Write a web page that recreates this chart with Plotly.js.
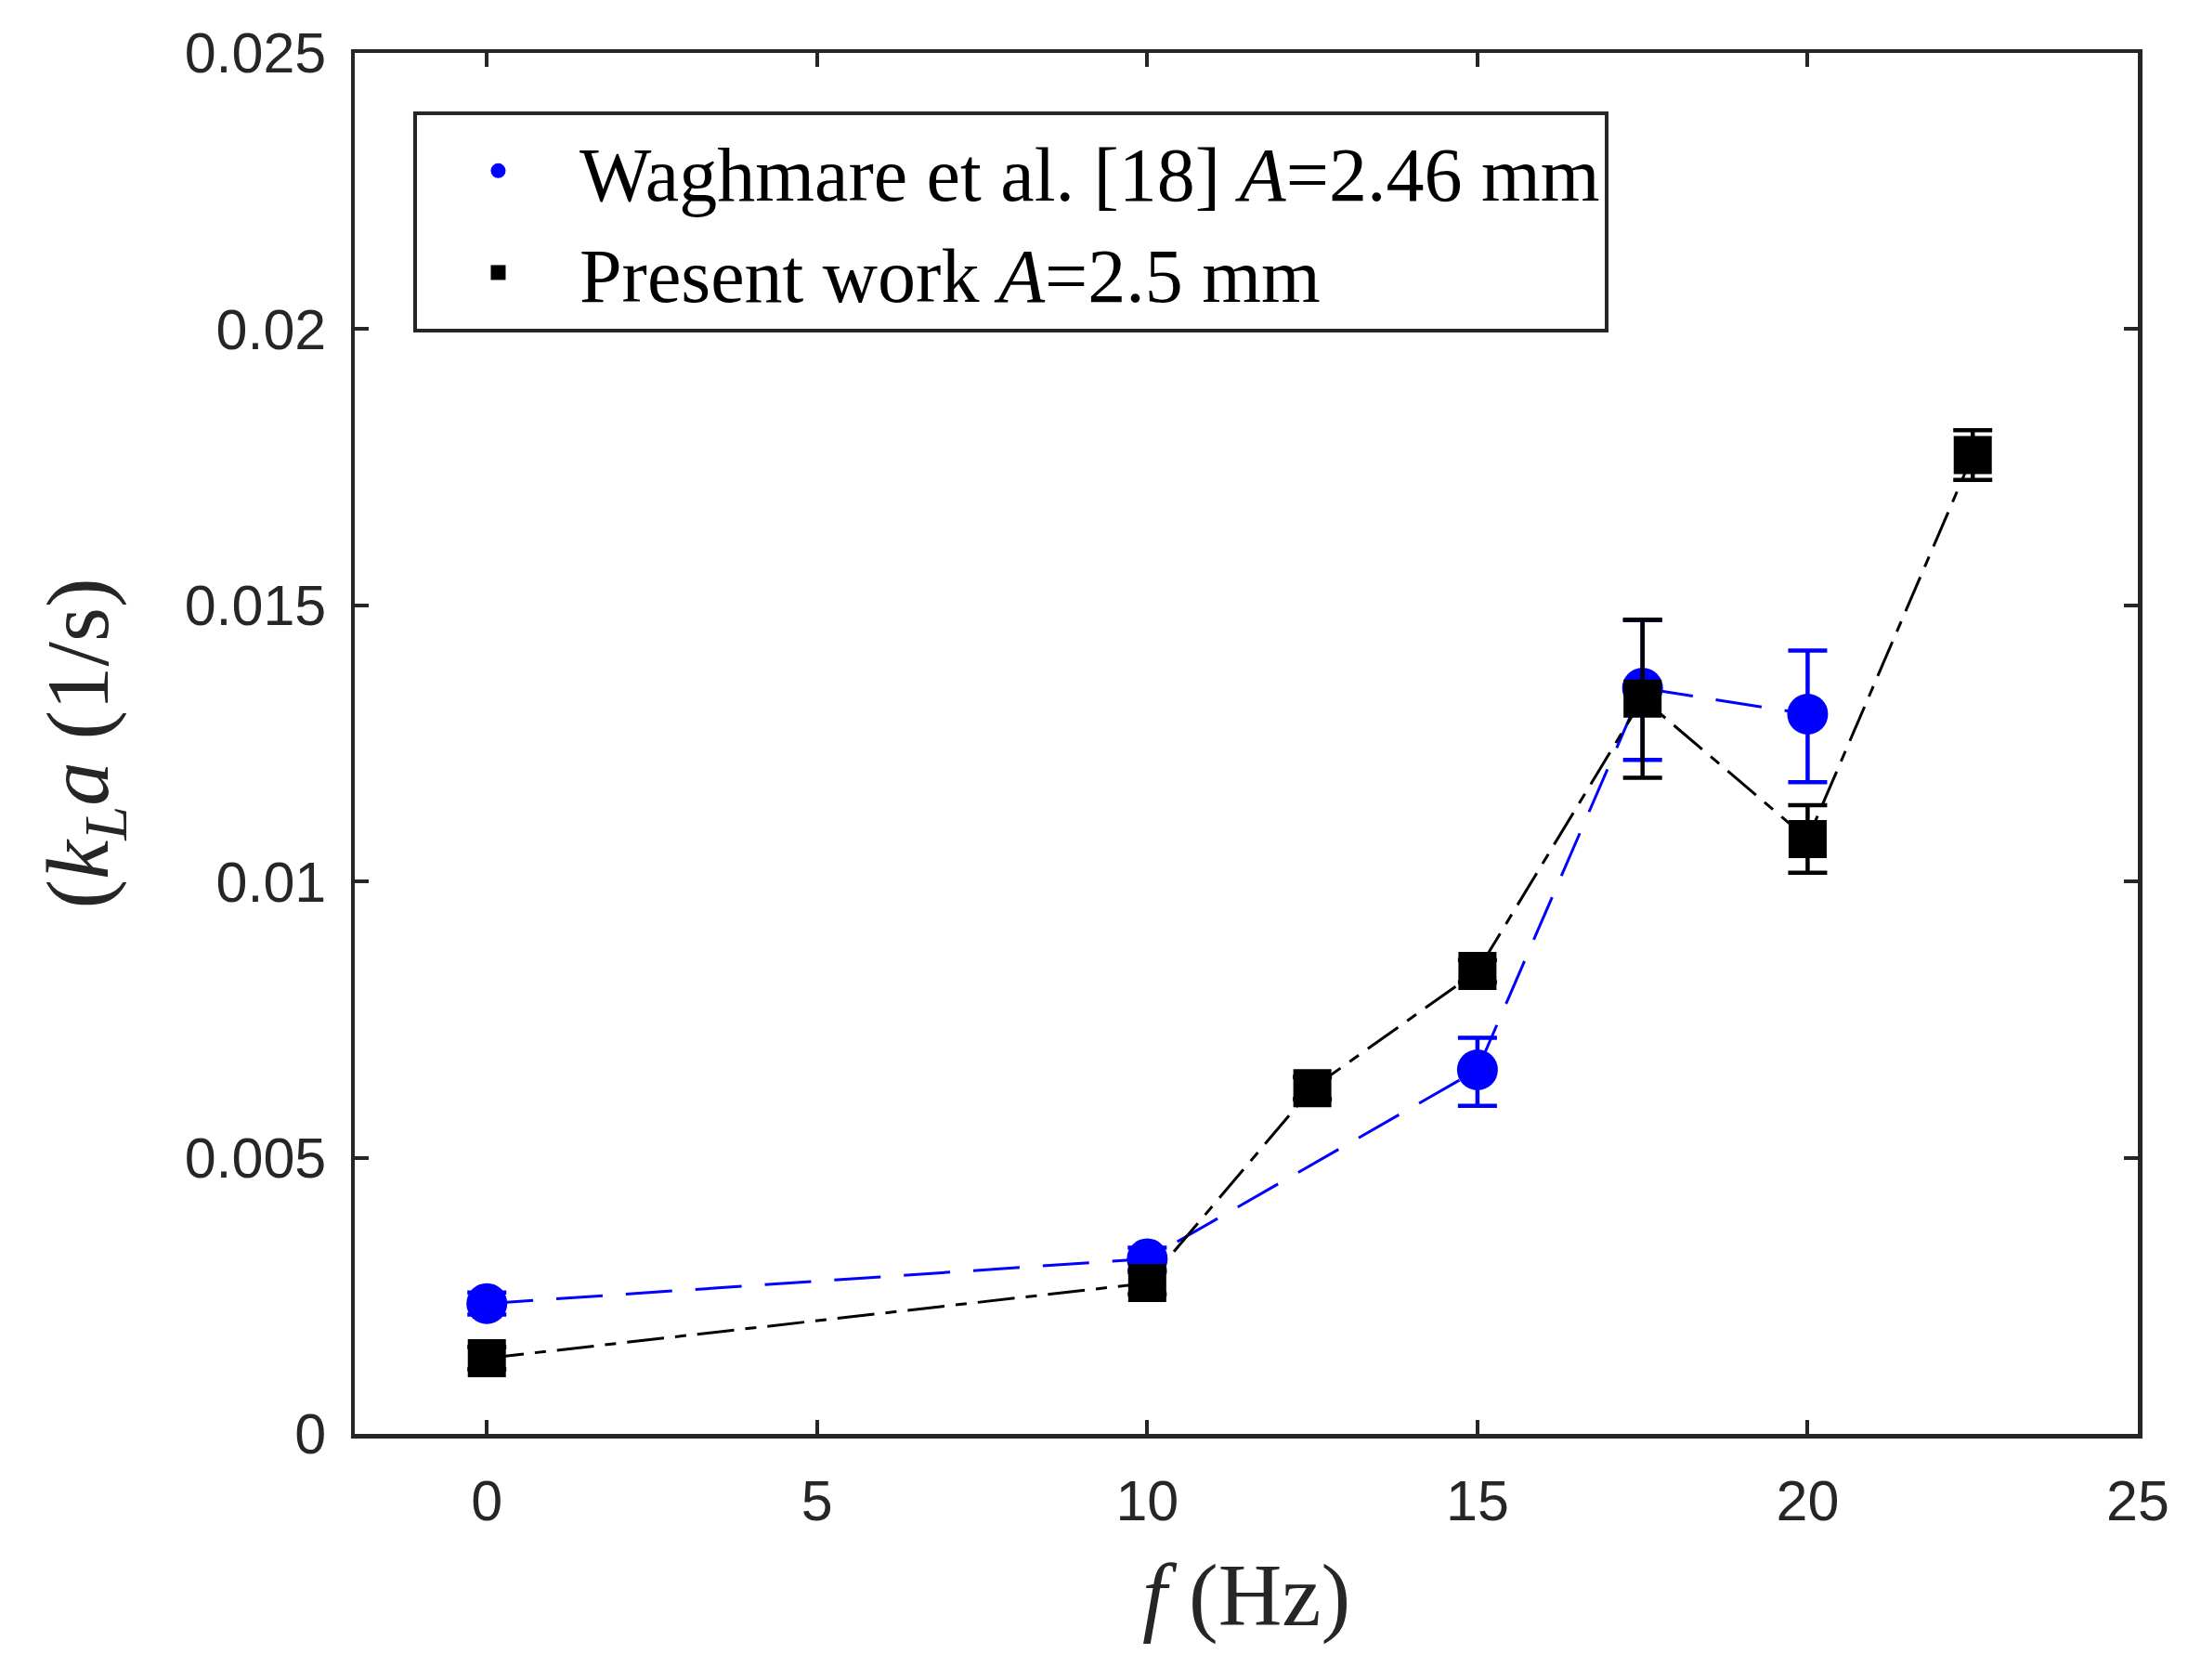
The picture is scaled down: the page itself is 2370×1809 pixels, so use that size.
<!DOCTYPE html>
<html>
<head>
<meta charset="utf-8">
<script src="https://cdn.plot.ly/plotly-3.0.1.min.js"></script>
<style>html,body{margin:0;padding:0;background:#fff;}</style>
</head>
<body>
<div id="chart" style="width:2370px;height:1809px;"></div>
<script>
// ---- data ----
const freqWaghmare = [0, 10, 15, 17.5, 20];
const kLaWaghmare = [0.00236, 0.00317, 0.00659, 0.01350, 0.01303];
const errWaghmarePlus = [0.0002, 0.0002, 0.00058, 0.00123, 0.00115];
const errWaghmareMinus = [0.0002, 0.0002, 0.00065, 0.00130, 0.00123];

const freqPresent = [0, 10, 12.5, 15, 17.5, 20, 22.5];
const kLaPresent = [0.00137, 0.00273, 0.00626, 0.00838, 0.01331, 0.01077, 0.01772];
const errPresent = [0.0002, 0.0002, 0.0002, 0.0002, 0.00143, 0.00061, 0.00045];

const nameWaghmare = 'Waghmare et al. [18] <i>A</i>=2.46 mm';
const namePresent = 'Present work <i>A</i>=2.5 mm';

const xTickVals = [0, 5, 10, 15, 20, 25];
const xTickText = ['0', '5', '10', '15', '20', '25'];
const yTickVals = [0, 0.005, 0.01, 0.015, 0.02, 0.025];
const yTickText = ['0', '0.005', '0.01', '0.015', '0.02', '0.025'];

const BLUE = '#0000ff';
const BLACK = '#000000';
const AXC = '#262626';
const SERIF = '"Liberation Serif", "Times New Roman", serif';
const SANS = '"Liberation Sans", Arial, Helvetica, sans-serif';

const traces = [
  {
    x: freqWaghmare, y: kLaWaghmare, mode: 'lines', showlegend: false,
    line: {color: BLUE, width: 3, dash: '50px,25px'}, hoverinfo: 'skip'
  },
  {
    x: freqPresent, y: kLaPresent, mode: 'lines', showlegend: false,
    line: {color: BLACK, width: 3, dash: '40px,12px,12px,12px'}, hoverinfo: 'skip'
  },
  {
    x: freqWaghmare, y: kLaWaghmare, mode: 'markers', name: nameWaghmare,
    marker: {symbol: 'circle', size: 44, color: BLUE, line: {width: 0}},
    error_y: {type: 'data', symmetric: false, array: errWaghmarePlus, arrayminus: errWaghmareMinus,
              color: BLUE, thickness: 4.5, width: 21}
  },
  {
    x: freqPresent, y: kLaPresent, mode: 'markers', name: namePresent,
    marker: {symbol: 'square', size: 41, color: BLACK, line: {width: 0}},
    error_y: {type: 'data', array: errPresent, color: BLACK, thickness: 4.5, width: 21}
  }
];

const layout = {
  width: 2370, height: 1809,
  margin: {l: 382, r: 68, t: 57, b: 265, pad: 0},
  paper_bgcolor: '#ffffff', plot_bgcolor: '#ffffff',
  showlegend: true,
  legend: {
    x: 0.0328, y: 0.9576, xanchor: 'left', yanchor: 'top',
    bgcolor: '#ffffff', bordercolor: AXC, borderwidth: 4,
    font: {family: SERIF, size: 82, color: '#000000'},
    itemwidth: 165, tracegroupgap: 0
  },
  xaxis: {
    range: [-2, 25], tickmode: 'array', tickvals: xTickVals, ticktext: xTickText,
    showgrid: false, zeroline: false,
    showline: true, linecolor: AXC, linewidth: 4.5, mirror: 'ticks',
    ticks: 'inside', ticklen: 15, tickwidth: 4, tickcolor: AXC,
    tickfont: {family: SANS, size: 61, color: AXC},
    ticklabelstandoff: 15,
    title: {text: '<i>f</i> (Hz)', font: {family: SERIF, size: 95, color: AXC}, standoff: 36}
  },
  yaxis: {
    range: [0, 0.025], tickmode: 'array', tickvals: yTickVals, ticktext: yTickText,
    showgrid: false, zeroline: false,
    showline: true, linecolor: AXC, linewidth: 4.5, mirror: 'ticks',
    ticks: 'inside', ticklen: 15, tickwidth: 4, tickcolor: AXC,
    tickfont: {family: SANS, size: 61, color: AXC},
    ticklabelstandoff: 14,
    title: {text: '(<i>k</i><sub><i>L</i></sub><i>a</i> (1/s)', font: {family: SERIF, size: 95, color: AXC}, standoff: 52}
  }
};

Plotly.newPlot('chart', traces, layout, {staticPlot: true, displayModeBar: false});
</script>
</body>
</html>
